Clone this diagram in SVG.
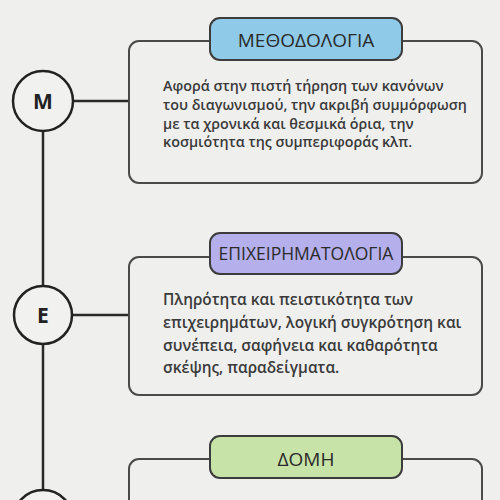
<svg xmlns="http://www.w3.org/2000/svg" width="500" height="500" viewBox="0 0 500 500">
<style>
.bg{fill:#efefee}
.box{fill:none;stroke:#4a4a4a;stroke-width:2}
.pill{stroke:#3c3c3c;stroke-width:2}
.circ{fill:#f1f1f0;stroke:#222;stroke-width:2.5}
.line{stroke:#2a2a2a;stroke-width:2.5;fill:none}
.ttl{font-family:"Open Sans","DejaVu Sans",sans-serif;fill:#2a2a2a;text-anchor:middle}
.body{font-family:"Open Sans","DejaVu Sans",sans-serif;fill:#3a3a3a;font-weight:600}
.let{font-family:"Open Sans","DejaVu Sans",sans-serif;font-weight:700;font-size:21px;fill:#222;text-anchor:middle}
</style>
<rect class="bg" x="0" y="0" width="500" height="500"/>
<g id="connectors">
<line class="line" x1="43" y1="131" x2="43" y2="286"/>
<line class="line" x1="43" y1="344" x2="43" y2="490"/>
<line class="line" x1="73" y1="101" x2="129" y2="101"/>
<line class="line" x1="72" y1="315" x2="129" y2="315"/>
</g>
<g id="node-m">
<circle class="circ" cx="43" cy="101" r="30"/>
<text class="let" x="43" y="109">Μ</text>
</g>
<g id="node-e">
<circle class="circ" cx="43" cy="315" r="29"/>
<text class="let" x="43" y="323">Ε</text>
</g>
<g id="node-d">
<circle class="circ" cx="43" cy="520" r="30"/>
</g>
<g id="box-methodologia">
<rect class="box" x="129" y="41" width="353" height="142" rx="10"/>
<rect class="pill" x="210" y="18" width="192" height="42" rx="10" fill="#8fcbe8"/>
<text class="ttl" x="306" y="47" font-size="19">ΜΕΘΟΔΟΛΟΓΙΑ</text>
<text class="body" font-size="14.3">
<tspan x="163" y="91">Αφορά στην πιστή τήρηση των κανόνων</tspan>
<tspan x="163" y="110">του διαγωνισμού, την ακριβή συμμόρφωση</tspan>
<tspan x="163" y="129">με τα χρονικά και θεσμικά όρια, την</tspan>
<tspan x="163" y="147">κοσμιότητα της συμπεριφοράς κλπ.</tspan>
</text>
</g>
<g id="box-epixeirimatologia">
<rect class="box" x="129" y="257" width="353" height="138" rx="10"/>
<rect class="pill" x="210" y="233" width="192" height="41" rx="10" fill="#b5b0ec"/>
<text class="ttl" x="306" y="260" font-size="17.5">ΕΠΙΧΕΙΡΗΜΑΤΟΛΟΓΙΑ</text>
<text class="body" font-size="15.4">
<tspan x="163" y="305">Πληρότητα και πειστικότητα των</tspan>
<tspan x="163" y="328">επιχειρημάτων, λογική συγκρότηση και</tspan>
<tspan x="163" y="351">συνέπεια, σαφήνεια και καθαρότητα</tspan>
<tspan x="163" y="373">σκέψης, παραδείγματα.</tspan>
</text>
</g>
<g id="box-domi">
<rect class="box" x="129" y="459" width="353" height="80" rx="10"/>
<rect class="pill" x="210" y="436" width="192" height="42" rx="10" fill="#c8e3a8"/>
<text class="ttl" x="306" y="466" font-size="19">ΔΟΜΗ</text>
</g>
</svg>
